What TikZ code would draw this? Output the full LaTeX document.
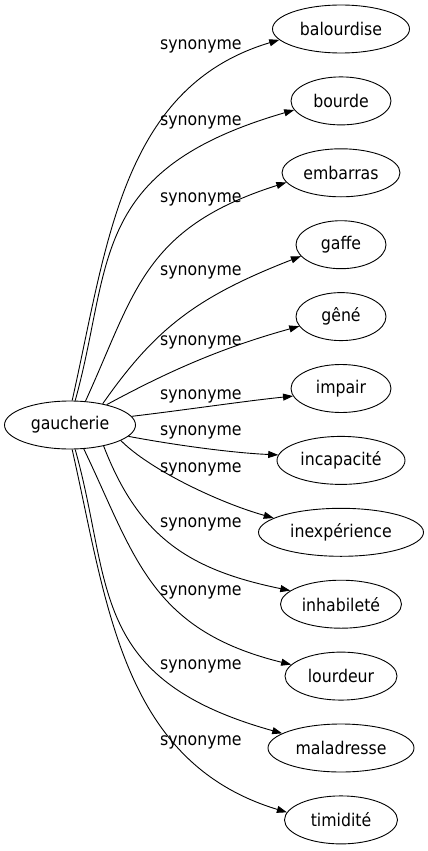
\documentclass[tikz,border=0pt]{standalone}
\usepackage{fontspec}
\setmainfont{DejaVu Sans Condensed}
\usetikzlibrary{
arrows.meta,
shapes.geometric
}
\tikzset{
wort/.style ={ellipse, draw, line width=0.9pt, minimum height=48pt, inner sep=0pt, font=\fontsize{17.5}{20}\selectfont},
syn_label/.style ={anchor=base west, inner sep=0pt, font=\fontsize{17.5}{20}\selectfont},
line_syn/.style ={draw, line width=0.9pt, -{Triangle[length=10pt,width=7pt]}}
}
\begin{document}
\begin{tikzpicture}[x=1pt, y=1pt]
\useasboundingbox (0,0) rectangle (428,-851);

%Knoten
\node [wort, minimum width=131pt] (gaucherie) at (70,-425) {gaucherie};

\node [wort, minimum width=137pt] (balourdise) at (341,-29.0) {balourdise};
\node [wort, minimum width=100pt] (bourde) at (341,-100.9) {bourde};
\node [wort, minimum width=118pt] (embarras) at (341,-172.8) {embarras};
\node [wort, minimum width=90pt] (gaffe) at (341,-244.7) {gaffe};
\node [wort, minimum width=90pt] (gene) at (341,-316.6) {gêné};
\node [wort, minimum width=100pt] (impair) at (341,-388.5) {impair};
\node [wort, minimum width=128pt] (incapacite) at (341,-460.4) {incapacité};
\node [wort, minimum width=165pt] (inexperience) at (341,-532.3) {inexpérience};
\node [wort, minimum width=121pt] (inhabilete) at (341,-604.2) {inhabileté};
\node [wort, minimum width=112pt] (lourdeur) at (341,-676.1) {lourdeur};
\node [wort, minimum width=146pt] (maladresse) at (341,-748.0) {maladresse};
\node [wort, minimum width=113pt] (timidite) at (341,-819.9) {timidité};

%Beschriftungen
\node [syn_label] (syn1) at (160,-49) {synonyme};
\node [syn_label] (syn2) at (160,-125) {synonyme};
\node [syn_label] (syn3) at (160,-202) {synonyme};
\node [syn_label] (syn4) at (160,-275) {synonyme};
\node [syn_label] (syn5) at (160,-345) {synonyme};
\node [syn_label] (syn6) at (160,-399) {synonyme};
\node [syn_label] (syn7) at (160,-435) {synonyme};
\node [syn_label] (syn8) at (160,-472) {synonyme};
\node [syn_label] (syn9) at (160,-527) {synonyme};
\node [syn_label] (syn10) at (160,-595) {synonyme};
\node [syn_label] (syn11) at (160,-669) {synonyme};
\node [syn_label] (syn12) at (160,-745) {synonyme};

%Pfeile oben
\draw [line_syn] (gaucherie.85) .. controls (107,-246) and (121,-87) .. (balourdise.190);
\draw [line_syn] (gaucherie.78) .. controls (113,-265) and (87,-170) .. (bourde.191);
\draw [line_syn] (gaucherie.57) .. controls (135,-293) and (143,-228) .. (embarras.190);
\draw [line_syn] (gaucherie.33) .. controls (155,-329) and (196,-297) .. (gaffe.196);
\draw [line_syn] (gaucherie.29) .. controls (169,-371) and (221,-348) .. (gene.193);
\draw [line_syn] (gaucherie.8) .. controls (185,-410) and (245,-401) .. (impair.189);

%Pfeile unten
\draw [line_syn] (gaucherie.-11) .. controls (180,-446) and (235,-453) .. (incapacite.175);
\draw [line_syn] (gaucherie.-17) .. controls (150,-470) and (220,-503) .. (inexperience.168);
\draw [line_syn] (gaucherie.-32) .. controls (139,-538) and (190,-570) .. (inhabilete.165);
\draw [line_syn] (gaucherie.-60) .. controls (135,-556) and (150,-630) .. (lourdeur.167);
\draw [line_syn] (gaucherie.-78) .. controls (113,-584) and (87,-679) .. (maladresse.166);
\draw [line_syn] (gaucherie.-85) .. controls (107,-603) and (121,-762) .. (timidite.172);

\end{tikzpicture}
\end{document}
